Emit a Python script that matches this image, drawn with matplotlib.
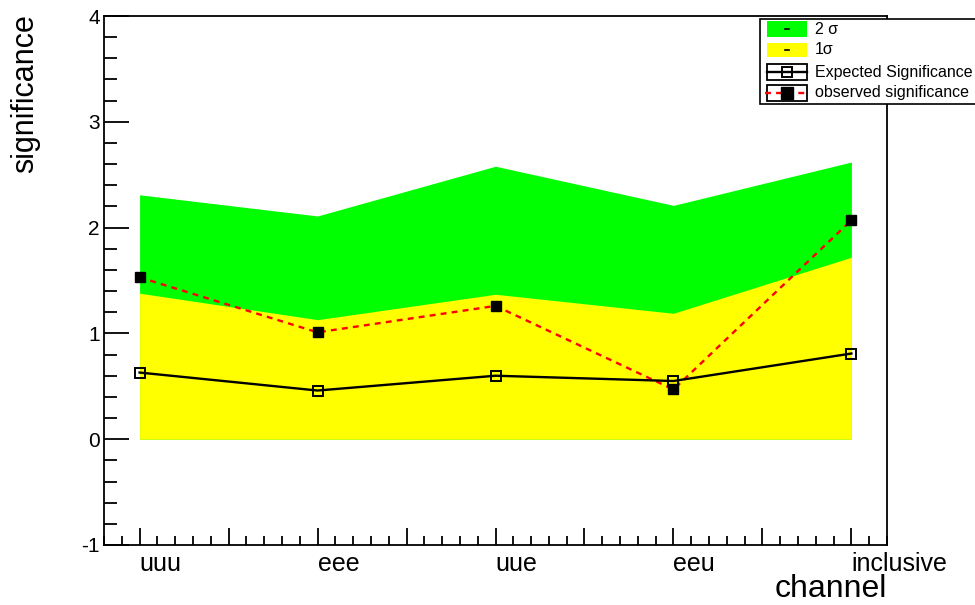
import matplotlib
matplotlib.use("Agg")
import matplotlib.pyplot as plt
from matplotlib.patches import Rectangle
from matplotlib.ticker import MultipleLocator, FixedLocator

plt.rcParams['font.family'] = ['Liberation Sans', 'DejaVu Sans']

# channels and significance values
channels = ["uuu", "eee", "uue", "eeu", "inclusive"]
band_2sigma = [2.31, 2.11, 2.58, 2.21, 2.62]
band_1sigma = [1.38, 1.13, 1.37, 1.19, 1.72]
expected = [0.63, 0.46, 0.60, 0.55, 0.81]
observed = [1.53, 1.01, 1.26, 0.47, 2.07]

legend_labels = ["2 σ", "1σ", "Expected Significance", "observed significance"]

W, H = 975, 605
fig = plt.figure(figsize=(W / 100, H / 100), dpi=100)
ax = fig.add_axes([104 / W, 1 - 545 / H, (887 - 104) / W, (545 - 16) / H])

x = list(range(len(channels)))
ax.fill_between(x, 0, band_2sigma, color="#00ff00", lw=0, zorder=1)
ax.fill_between(x, 0, band_1sigma, color="#ffff00", lw=0, zorder=2)
ax.plot(x, observed, color="red", lw=1.7, ls=(0, (2.5, 2.2)), marker="s",
        ms=7, mfc="black", mec="black", zorder=3)
ax.plot(x, expected, color="black", lw=1.7, marker="s", ms=7.2,
        mfc="none", mec="black", mew=1.4, zorder=4)

ax.set_xlim(-0.2, 4.2)
ax.set_ylim(-1, 4)

# x axis: labelled major ticks at channels, unlabelled at half steps
major_x = [i * 0.5 for i in range(0, 9)]
ax.xaxis.set_major_locator(FixedLocator(major_x))
ax.set_xticklabels([channels[int(v)] if v == int(v) else "" for v in major_x],
                   ha="left")
ax.xaxis.set_minor_locator(MultipleLocator(0.1))
ax.yaxis.set_minor_locator(MultipleLocator(0.2))
ax.set_yticks([-1, 0, 1, 2, 3, 4], ["-1", "0", "1", "2", "3", "4"])

ax.tick_params(axis="x", which="major", direction="in", length=12, width=1.3,
               labelsize=18, pad=5, top=False)
ax.tick_params(axis="x", which="minor", direction="in", length=6.5, width=1.3,
               top=False)
ax.tick_params(axis="y", which="major", direction="in", length=18, width=1.3,
               labelsize=15, pad=3, right=False)
ax.tick_params(axis="y", which="minor", direction="in", length=9.5, width=1.3,
               right=False)
for s in ax.spines.values():
    s.set_linewidth(1.3)

fig.text(25 / W, 1 - 14 / H, "significance", rotation=90, ha="center",
         va="top", fontsize=22)
fig.text(887 / W, 1 - 589 / H, "channel", ha="right", va="center", fontsize=23)

# legend drawn in pixel coordinates
lg = fig.add_axes([0, 0, 1, 1], zorder=10)
lg.set_xlim(0, W)
lg.set_ylim(H, 0)
lg.axis("off")
lg.add_patch(Rectangle((760, 19), 300, 85, facecolor="white",
                       edgecolor="black", lw=1.2))
rows = [29, 50, 72, 93]
bx0, bx1 = 767, 807
lg.add_patch(Rectangle((bx0, rows[0] - 8), bx1 - bx0, 16, facecolor="#00ff00",
                       edgecolor="none"))
lg.add_patch(Rectangle((bx0, rows[1] - 7), bx1 - bx0, 14, facecolor="#ffff00",
                       edgecolor="none"))
for r in rows[:2]:
    lg.plot([785, 789], [r, r], color="black", lw=1.2)
for r in rows[2:]:
    lg.add_patch(Rectangle((bx0, r - 8), bx1 - bx0, 16, facecolor="white",
                           edgecolor="black", lw=1.3))
lg.plot([bx0, bx1], [rows[2], rows[2]], color="black", lw=1.7)
lg.plot([787], [rows[2]], marker="s", ms=7.2, mfc="none", mec="black", mew=1.4)
lg.plot([bx0 - 2, bx1 + 2], [rows[3], rows[3]], color="red", lw=1.7,
        ls=(0, (2.5, 2.2)))
lg.plot([787], [rows[3]], marker="s", ms=8, mfc="black", mec="black")
for r, t in zip(rows, legend_labels):
    lg.text(815, r, t, ha="left", va="center", fontsize=11.5)

fig.savefig("out.png", dpi=100)
